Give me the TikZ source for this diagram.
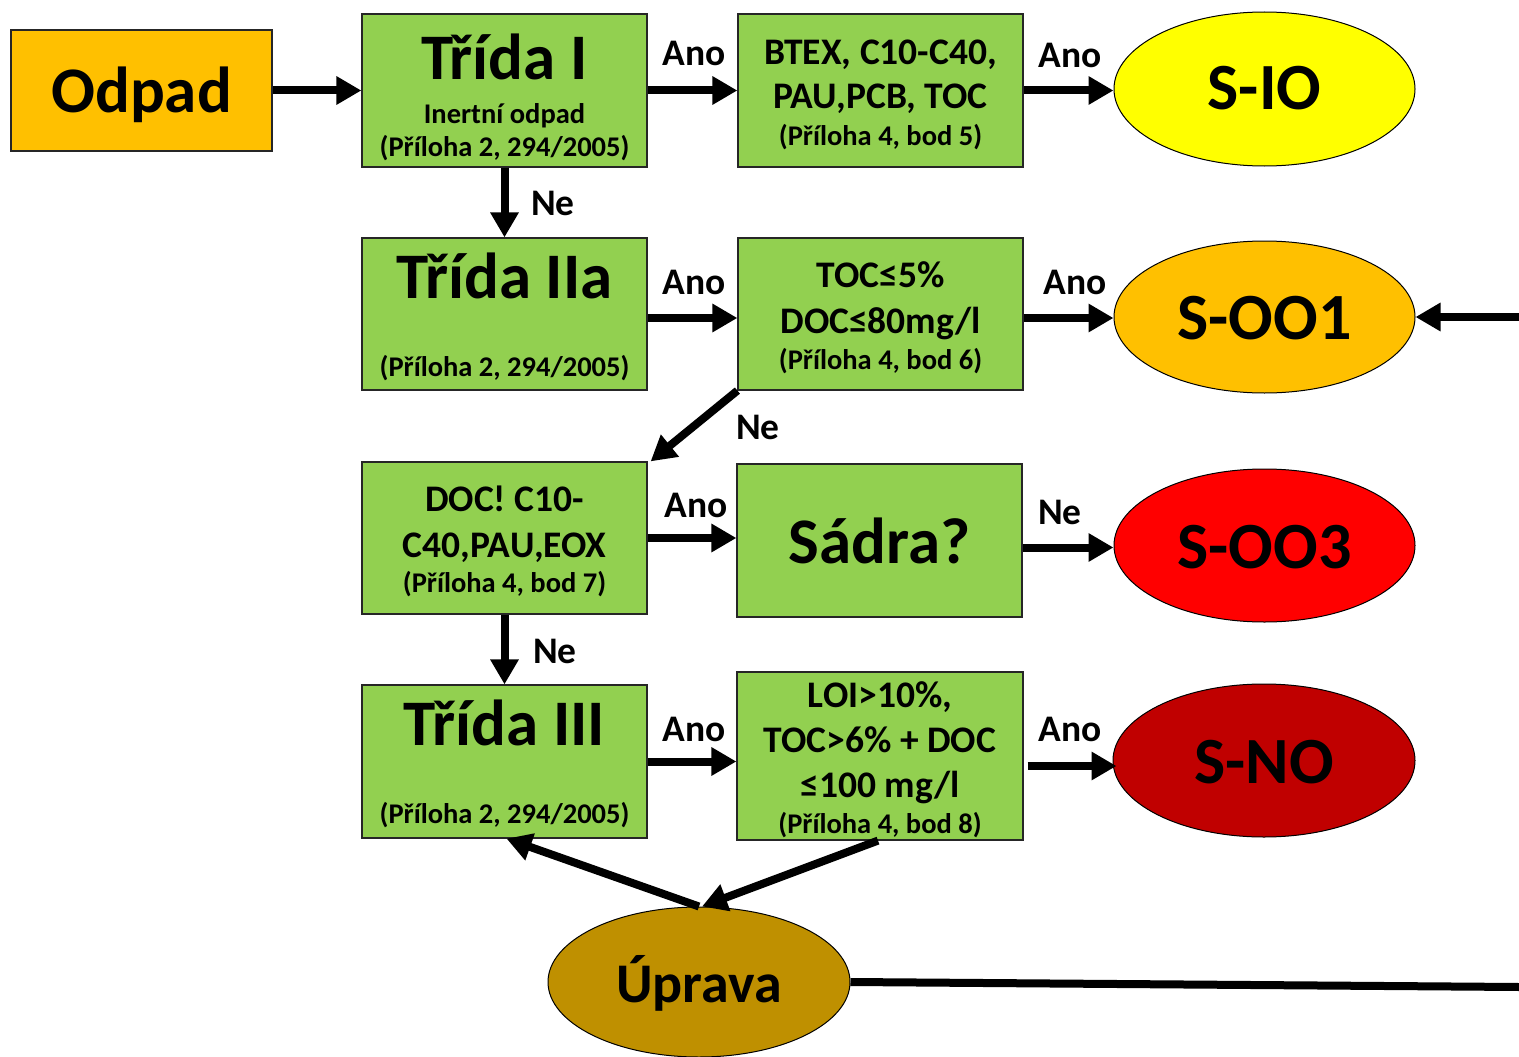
\documentclass[tikz,border=0pt]{standalone}
\usepackage{fontspec}
\setmainfont{Carlito}
\usetikzlibrary{arrows.meta,shapes.geometric}
\definecolor{cgreen}{HTML}{92D050}
\definecolor{corange}{HTML}{FFC000}
\definecolor{cyellow}{HTML}{FFFF00}
\definecolor{cred}{HTML}{FF0000}
\definecolor{cdred}{HTML}{C00000}
\definecolor{cgold}{HTML}{BF9000}
\tikzset{
  box/.style={draw=black!85, line width=1.2pt, fill=cgreen, minimum width=285pt, minimum height=153pt, inner sep=0pt},
  oval/.style={ellipse, draw=black, line width=1pt, minimum width=301pt, minimum height=153pt, inner sep=0pt},
  txt/.style={anchor=base, inner sep=0pt, font=\bfseries},
  big/.style={txt, font=\fontsize{65}{67}\selectfont\bfseries},
  huge/.style={txt, font=\fontsize{66}{68}\selectfont\bfseries},
  mid/.style={txt, font=\fontsize{37.5}{39}\selectfont\bfseries},
  sml/.style={txt, font=\fontsize{28.5}{30}\selectfont\bfseries},
  lbl/.style={txt, font=\fontsize{37.5}{39}\selectfont\bfseries},
  arr/.style={line width=8pt, -{Triangle[length=25pt,width=27pt]}},
  thk/.style={line width=8pt}
}
\begin{document}
\begin{tikzpicture}[x=1pt,y=-1pt]
\useasboundingbox (0,0) rectangle (1519,1057);
% boxes
\node[box, fill=corange, minimum width=261pt, minimum height=121pt] (odpad) at (141.5,90.5) {};
\node[box] (t1) at (504.5,90.5) {};
\node[box] (btex) at (880.5,90.5) {};
\node[box, minimum height=152pt] (t2) at (504.5,314) {};
\node[box, minimum height=152pt] (toc) at (880.5,314) {};
\node[box, minimum height=152pt] (doc) at (504.5,538) {};
\node[box] (sadra) at (879.5,540.5) {};
\node[box] (t3) at (504.5,761.5) {};
\node[box, minimum width=286pt, minimum height=168pt] (loi) at (880,756) {};
% ovals
\node[oval, fill=cyellow, minimum height=154pt] (sio) at (1264.5,89) {};
\node[oval, fill=corange, minimum height=152pt] (soo1) at (1264.5,317) {};
\node[oval, fill=cred] (soo3) at (1264.5,545.5) {};
\node[oval, fill=cdred, minimum width=302pt] (sno) at (1264,760.5) {};
\node[oval, fill=cgold, minimum width=302pt, minimum height=150pt] (uprava) at (699,982) {};
% texts
\node[big] (todpad) at (141.5,112) {Odpad};
\node[big] (tt1) at (504.5,80) {Třída I};
\node[sml] (tt1b) at (504.5,124) {Inertní odpad};
\node[sml] (tt1c) at (504.5,156) {(Příloha 2, 294/2005)};
\node[mid] (tb1) at (880.5,65) {BTEX, C10-C40,};
\node[mid] (tb2) at (880.5,109) {PAU,PCB, TOC};
\node[sml] (tb3) at (880.5,145) {(Příloha 4, bod 5)};
\node[big] (tt2) at (504.5,298) {Třída IIa};
\node[sml] (tt2b) at (504.5,376) {(Příloha 2, 294/2005)};
\node[mid] (tc1) at (880.5,287) {TOC≤5\%};
\node[mid] (tc2) at (880.5,333) {DOC≤80mg/l};
\node[sml] (tc3) at (880.5,369) {(Příloha 4, bod 6)};
\node[mid] (td1) at (504.5,511) {DOC! C10-};
\node[mid] (td2) at (504.5,557) {C40,PAU,EOX};
\node[sml] (td3) at (504.5,592) {(Příloha 4, bod 7)};
\node[big] (ts) at (879.5,563) {Sádra?};
\node[big] (tt3) at (504.5,745) {Třída III};
\node[sml] (tt3b) at (504.5,823) {(Příloha 2, 294/2005)};
\node[mid] (tl1) at (880,707) {LOI>10\%,};
\node[mid] (tl2) at (880,752) {TOC>6\% + DOC};
\node[mid] (tl3) at (880,797) {≤100 mg/l};
\node[sml] (tl4) at (880,833) {(Příloha 4, bod 8)};
\node[huge] (tsio) at (1264.5,110) {S-IO};
\node[huge] (tsoo1) at (1264.5,339) {S-OO1};
\node[huge] (tsoo3) at (1264.5,568) {S-OO3};
\node[huge] (tsno) at (1264,783) {S-NO};
\node[txt, font=\fontsize{56}{58}\selectfont\bfseries] (tup) at (699,1002) {Úprava};
% labels
\node[lbl] (a1) at (694,66) {Ano};
\node[lbl] (a2) at (1070,68) {Ano};
\node[lbl] (n1) at (553,215) {Ne};
\node[lbl] (a3) at (694,294) {Ano};
\node[lbl] (a4) at (1075,294) {Ano};
\node[lbl] (n2) at (758,439) {Ne};
\node[lbl] (a5) at (696,517) {Ano};
\node[lbl] (n3) at (1060,524) {Ne};
\node[lbl] (n4) at (555,663) {Ne};
\node[lbl] (a6) at (694,741) {Ano};
\node[lbl] (a7) at (1070,741) {Ano};
% free ends
\coordinate (e1) at (1519,987);
\coordinate (e2) at (1519,317);
% connectors
\draw[arr] (odpad.east) -- (t1.west);
\draw[arr] (t1.east) -- (btex.west);
\draw[arr] (btex.east) -- (btex.east -| sio.west);
\draw[arr] (t1.south) -- (t2.north);
\draw[arr] ([yshift=-4pt]t2.east) -- ([yshift=-4pt]toc.west);
\draw[arr] ([yshift=-4pt]toc.east) -- ([yshift=-4pt]toc.east -| soo1.west);
\draw[arr] (toc.south west) -- ([xshift=3pt]doc.north east);
\draw[arr] (doc.east) -- (doc.east -| sadra.west);
\draw[arr] ([yshift=-7pt]sadra.east) -- ([yshift=-7pt]sadra.east -| soo3.west);
\draw[arr] (doc.south) -- (t3.north);
\draw[arr] (t3.east) -- (t3.east -| loi.west);
\draw[arr] ([xshift=4pt,yshift=-10pt]loi.east) -- ([xshift=4pt,yshift=-10pt]loi.east -| sno.west);
\draw[arr] (uprava.north) -- ([xshift=2pt]t3.south);
\draw[arr] ([xshift=-2pt]loi.south) -- ([xshift=3pt]uprava.north);
\draw[thk] (uprava.east) -- (e1);
\draw[arr] (e2) -- (soo1.east);
\end{tikzpicture}
\end{document}
